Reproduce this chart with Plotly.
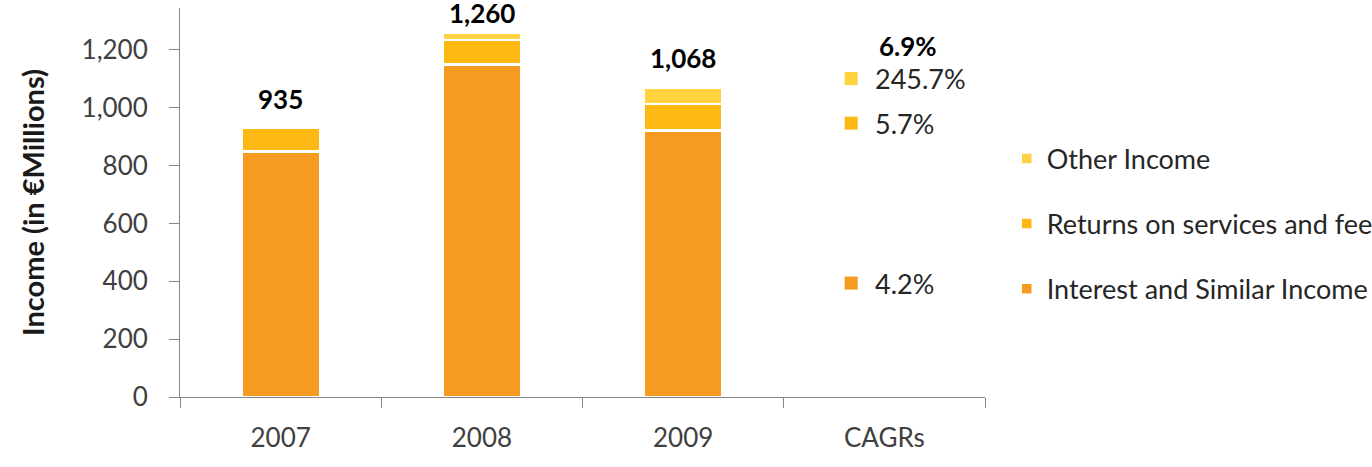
import plotly.graph_objects as go

categories = ["2007", "2008", "2009", "CAGRs"]
years = ["2007", "2008", "2009"]
interest = [848, 1150, 921]
returns = [82, 84, 92]
other = [5, 26, 55]
totals = [935, 1260, 1068]
series_names = ["Interest and Similar Income", "Returns on services and fees", "Other Income"]
series_colors = ["#F49B20", "#FDB813", "#FFD23F"]
legend_ranks = [3, 2, 1]

cagr_labels = ["4.2%", "5.7%", "245.7%"]
cagr_total = "6.9%"
# label positions (value-axis units) of the CAGR keys
cagr_y = [394, 947, 1101]
cagr_total_y = 1214
total_shift = [28, 20, 30]

FONT = "Lato"
fig = go.Figure()
for name, vals, col, rk in zip(series_names, [interest, returns, other], series_colors, legend_ranks):
    fig.add_trace(go.Bar(
        x=categories, y=vals + [None], name=name, legendgroup=name, legendrank=rk,
        marker=dict(color=col, line=dict(color="white", width=2.5)),
        width=0.39, hoverinfo="y",
    ))

# CAGR keys drawn on an overlaid linear axis
key_x = 3 - 0.165
fig.add_trace(go.Scatter(
    x=[key_x] * 3, y=cagr_y, xaxis="x2", mode="markers",
    marker=dict(symbol="square", size=13, color=series_colors),
    showlegend=False, hoverinfo="skip", cliponaxis=False,
))
for lab, yv in zip(cagr_labels, cagr_y):
    fig.add_annotation(xref="x2", yref="y", x=key_x, y=yv, text=lab, showarrow=False,
                       xanchor="left", xshift=22, yanchor="middle",
                       font=dict(family=FONT, size=27, color="#262626"))

for i, (tot, sh) in enumerate(zip(totals, total_shift)):
    fig.add_annotation(x=i, y=tot, text=f"<b>{tot:,}</b>", showarrow=False,
                       yshift=sh, yanchor="middle",
                       font=dict(family=FONT, size=26, color="#000000"))
fig.add_annotation(x=categories.index("CAGRs"), y=cagr_total_y, text=f"<b>{cagr_total}</b>",
                   showarrow=False, xshift=24, yanchor="middle",
                   font=dict(family=FONT, size=26, color="#000000"))

axis_col = "#868686"
fig.update_layout(
    width=1372, height=467,
    margin=dict(l=180, r=387, t=8, b=70, autoexpand=False),
    paper_bgcolor="white", plot_bgcolor="white",
    barmode="stack", font=dict(family=FONT, size=26, color="#404040"),
    xaxis=dict(type="category", categoryorder="array", categoryarray=categories,
               range=[-0.5, 3.5], showline=True, linecolor=axis_col, linewidth=1,
               ticks="outside", tickson="boundaries", ticklen=10, tickcolor=axis_col,
               showgrid=False, tickfont=dict(family=FONT, size=26, color="#404040"),
               ticklabelstandoff=18),
    xaxis2=dict(overlaying="x", range=[-0.5, 3.5], visible=False),
    yaxis=dict(range=[0, 1345], showline=True, linecolor=axis_col, linewidth=1,
               ticks="outside", ticklen=10, tickcolor=axis_col,
               tickvals=[0, 200, 400, 600, 800, 1000, 1200], tickformat=",",
               showgrid=False, zeroline=False,
               tickfont=dict(family=FONT, size=26, color="#404040"),
               ticklabelstandoff=16,
               title=dict(text="<b>Income (in €Millions)</b>", standoff=28,
                          font=dict(family=FONT, size=29, color="#1a1a1a"))),
    legend=dict(x=1.027, y=0.675, xanchor="left", yanchor="top",
                traceorder="grouped", tracegroupgap=27,
                font=dict(family=FONT, size=27, color="#262626"),
                bgcolor="rgba(0,0,0,0)"),
    showlegend=True,
)

fig.write_html("out.html")
